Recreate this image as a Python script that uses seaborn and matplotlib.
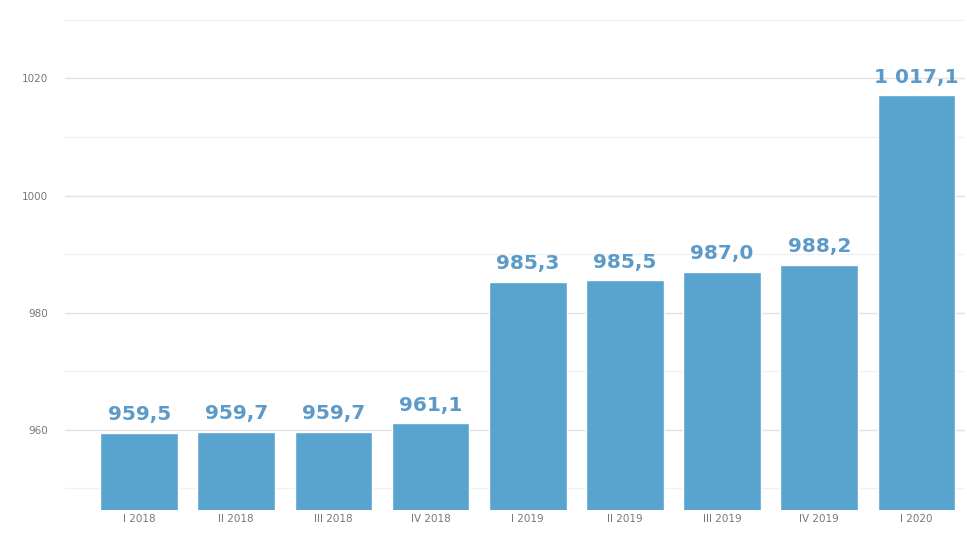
import matplotlib
matplotlib.use("Agg")
import matplotlib.pyplot as plt
import seaborn as sns
import pandas as pd
from matplotlib.ticker import MultipleLocator, FixedLocator

# data
quarters = ["I 2018", "II 2018", "III 2018", "IV 2018", "I 2019",
            "II 2019", "III 2019", "IV 2019", "I 2020"]
values = [959.5, 959.7, 959.7, 961.1, 985.3, 985.5, 987.0, 988.2, 1017.1]
value_labels = ["959,5", "959,7", "959,7", "961,1", "985,3",
                "985,5", "987,0", "988,2", "1 017,1"]
y_ticks = [960, 980, 1000, 1020]

bar_color = "#58a4cf"
label_color = "#5b9ac9"

sns.set_style("white")
plt.rcParams['font.family'] = ['DejaVu Sans']

df = pd.DataFrame({"quarter": quarters, "value": values})

fig = plt.figure(figsize=(9.67, 5.36), dpi=100)
ax = fig.add_axes([65 / 967, 26 / 536, 900 / 967, 496 / 536])

sns.barplot(data=df, x="quarter", y="value", color=bar_color,
            saturation=1, width=0.8, ax=ax, zorder=2)

ax.set_ylim(946.3, 1031)
ax.set_xlim(-0.763, 8.5)

# gridlines
ax.yaxis.set_major_locator(FixedLocator(y_ticks))
ax.yaxis.set_minor_locator(MultipleLocator(10))
ax.grid(axis="y", which="major", color="#e2e2e2", linewidth=1, zorder=0)
ax.grid(axis="y", which="minor", color="#f1f1f1", linewidth=1, zorder=0)
ax.set_axisbelow(True)

for s in ax.spines.values():
    s.set_visible(False)

ax.tick_params(axis="both", which="both", length=0)
ax.tick_params(axis="y", labelsize=7.5, labelcolor="#777777", pad=12)
ax.tick_params(axis="x", labelsize=7.5, labelcolor="#777777", pad=3)
ax.set_xlabel("")
ax.set_ylabel("")

for i, (v, lab) in enumerate(zip(values, value_labels)):
    ax.annotate(lab, (i, v), xytext=(0, 6), textcoords="offset points",
                ha="center", va="bottom", fontsize=14.5, fontweight="bold",
                color=label_color)

fig.savefig("out.png", dpi=100)
